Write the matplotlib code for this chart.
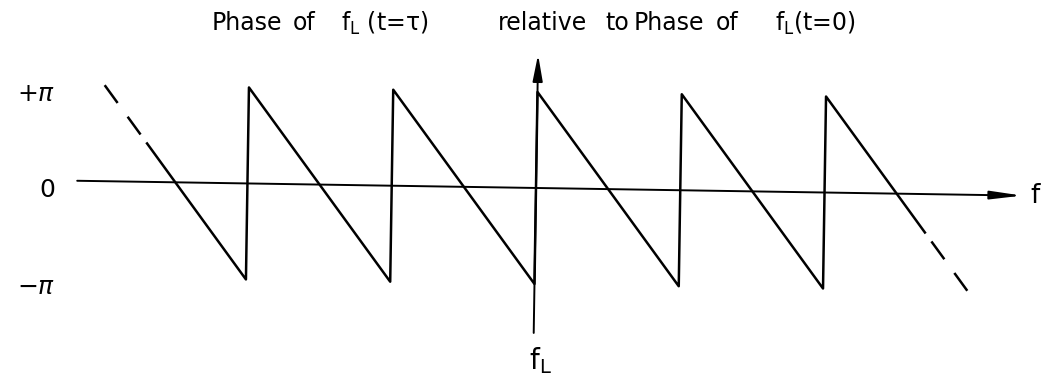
import numpy as np
import matplotlib.pyplot as plt
from matplotlib.transforms import Affine2D

plt.rcParams['font.family'] = 'DejaVu Sans'

# frequency axis: f - fL in units of 1/tau, phase in radians
saw_f = [-2.7, -2, -2, -1, -1, 0, 0, 1, 1, 2, 2, 2.7]
saw_phase = [0.4 * np.pi, -np.pi, np.pi, -np.pi, np.pi, -np.pi,
             np.pi, -np.pi, np.pi, -np.pi, np.pi, -0.4 * np.pi]

# dashed continuation at both ends (tail is listed from its tip inwards)
lead_f = [-3.0, -2.7]
lead_phase = [np.pi, 0.4 * np.pi]
tail_f = [3.0, 2.7]
tail_phase = [-np.pi, -0.4 * np.pi]

phase_ticks = [np.pi, 0, -np.pi]
phase_labels = [r'+$\pi$', '0', r'$-\pi$']

f_span = [-3.18, 3.37]
phase_span = [-1.51 * np.pi, 1.39 * np.pi]

# lettered title, spaced out group by group
fL = r'$\mathregular{f_L}$'
title_words = ['Phase', 'of', fL + ' (t=τ)', 'relative', 'to', 'Phase', 'of', fL + '(t=0)']
title_x = [246.5, 304, 385, 542, 617.5, 668.5, 727, 815]

W, H = 1056, 390
fig = plt.figure(figsize=(W / 100, H / 100), dpi=100)
ax = fig.add_axes([62 / W, 0, 1 - 62 / W, 1])
ax.set_xlim(-3.285, 3.604)
ax.set_ylim(-2.104 * np.pi, 1.958 * np.pi)

# the hand drawing sits slightly crooked on the page
tilt = ax.transData + Affine2D().rotate_deg_around(537, 202, -0.9)

ax.plot(saw_f, saw_phase, color='k', lw=1.8, transform=tilt)
ax.plot(lead_f, lead_phase, color='k', lw=1.8, dashes=(8.8, 6.8), transform=tilt)
ax.plot(tail_f, tail_phase, color='k', lw=1.8, dashes=(8.8, 6.8), transform=tilt)

# axes with arrow heads
ax.annotate('', xy=(f_span[1], 0), xytext=(f_span[0], 0),
            xycoords=tilt, textcoords=tilt,
            arrowprops=dict(arrowstyle='-|>,head_length=1.9,head_width=0.25',
                            color='k', lw=1.4, shrinkA=0, shrinkB=0, mutation_scale=10))
ax.annotate('', xy=(0, phase_span[1]), xytext=(0, phase_span[0]),
            xycoords=tilt, textcoords=tilt,
            arrowprops=dict(arrowstyle='-|>,head_length=1.6,head_width=0.3',
                            color='k', lw=1.4, shrinkA=0, shrinkB=0, mutation_scale=10))

ax.text(3.46, 0, 'f', transform=tilt, ha='center', va='center', fontsize=19)
ax.text(0.05, -1.64 * np.pi, fL, transform=tilt, ha='center', va='top', fontsize=20)

ax.set_yticks(phase_ticks, phase_labels, fontsize=18)
ax.tick_params(axis='y', length=0, pad=5)
ax.set_xticks([])
for s in ax.spines.values():
    s.set_visible(False)

for word, x in zip(title_words, title_x):
    fig.text(x / W, 1 - 30.5 / H, word, ha='center', va='baseline', fontsize=17)

fig.savefig('out.png', dpi=100, facecolor='white')
